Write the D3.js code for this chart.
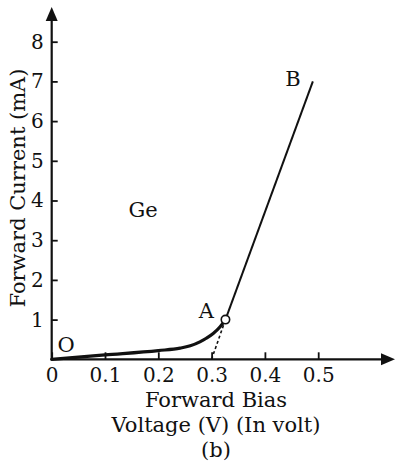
<!DOCTYPE html>
<html><head><meta charset="utf-8">
<script src="https://cdn.jsdelivr.net/npm/d3@7"></script>
<style>
html,body{margin:0;padding:0;background:#fff;}
text{font-family:"DejaVu Serif","Liberation Serif",serif;fill:#111;}
</style></head>
<body><svg id="c" width="411" height="466"></svg>
<script>
// Data
const xTicks = [0, 0.1, 0.2, 0.3, 0.4, 0.5];
const xTickLabels = ["0", "0.1", "0.2", "0.3", "0.4", "0.5"];
const yTicks = [1, 2, 3, 4, 5, 6, 7, 8];
const yTickLabels = ["1", "2", "3", "4", "5", "6", "7", "8"];
// knee curve O -> A (voltage V, current mA)
const kneeV = [0, 0.1, 0.2, 0.241, 0.26, 0.278, 0.29, 0.303, 0.316, 0.326];
const kneeI = [0, 0.11, 0.22, 0.28, 0.34, 0.44, 0.53, 0.65, 0.82, 1.0];
// linear region A -> B
const linV = [0.326, 0.49];
const linI = [1.0, 7.0];
// extrapolation (dashed) to threshold voltage
const dashV = [0.3, 0.326];
const dashI = [0, 1.0];
const pointLabels = ["O", "A", "B"];
const pointV = [0, 0.326, 0.49];
const pointI = [0, 1.0, 7.0];
const material = "Ge";
const xTitle = ["Forward Bias", "Voltage (V) (In volt)", "(b)"];
const yTitle = "Forward Current (mA)";

const svg = d3.select("#c");
const x = d3.scaleLinear().domain([0, 0.6]).range([51.7, 371.5]);
const y = d3.scaleLinear().domain([0, 8]).range([359.3, 41.7]);
const ink = "#111";

// axes lines with arrows
svg.append("line").attr("x1", x(0)).attr("x2", 384).attr("y1", y(0)).attr("y2", y(0))
  .attr("stroke", ink).attr("stroke-width", 2.2);
svg.append("line").attr("x1", x(0)).attr("x2", x(0)).attr("y1", y(0) + 1).attr("y2", 18)
  .attr("stroke", ink).attr("stroke-width", 2.2);
svg.append("path").attr("d", `M395,${y(0)} L381,${y(0) - 6} L381,${y(0) + 6} Z`).attr("fill", ink);
svg.append("path").attr("d", `M${x(0)},7 L${x(0) - 6},21 L${x(0) + 6},21 Z`).attr("fill", ink);

// x axis ticks
const xAxis = d3.axisBottom(x).tickValues(xTicks)
  .tickFormat((d, i) => xTickLabels[i]).tickSizeInner(-7).tickSizeOuter(0).tickPadding(8.5);
const gx = svg.append("g").attr("transform", `translate(0,${y(0)})`).call(xAxis);
gx.select(".domain").remove();
gx.selectAll(".tick line").attr("stroke", ink).attr("stroke-width", 1.8);
gx.selectAll(".tick text").attr("font-size", 20).attr("fill", ink)
  .style("font-family", '"DejaVu Serif", serif');

const yAxis = d3.axisLeft(y).tickValues(yTicks)
  .tickFormat((d, i) => yTickLabels[i]).tickSizeInner(-6).tickSizeOuter(0).tickPadding(8);
const gy = svg.append("g").attr("transform", `translate(${x(0)},0)`).call(yAxis);
gy.select(".domain").remove();
gy.selectAll(".tick line").attr("stroke", ink).attr("stroke-width", 1.8);
gy.selectAll(".tick text").attr("font-size", 20).attr("fill", ink)
  .style("font-family", '"DejaVu Serif", serif');

// curves
const knee = kneeV.map((v, i) => [v, kneeI[i]]);
const lin = linV.map((v, i) => [v, linI[i]]);
const dash = dashV.map((v, i) => [v, dashI[i]]);
const line = d3.line().x(d => x(d[0])).y(d => y(d[1]));
svg.append("path").attr("d", line.curve(d3.curveMonotoneX)(knee))
  .attr("fill", "none").attr("stroke", ink).attr("stroke-width", 3.2).attr("stroke-linecap", "round");
svg.append("path").attr("d", d3.line().x(d => x(d[0])).y(d => y(d[1]))(lin))
  .attr("fill", "none").attr("stroke", ink).attr("stroke-width", 2);
svg.append("path").attr("d", d3.line().x(d => x(d[0])).y(d => y(d[1]))(dash))
  .attr("fill", "none").attr("stroke", ink).attr("stroke-width", 1.6).attr("stroke-dasharray", "3,2.5");
svg.append("circle").attr("cx", x(pointV[1])).attr("cy", y(pointI[1])).attr("r", 4.2)
  .attr("fill", "#fff").attr("stroke", ink).attr("stroke-width", 1.6);

// point labels
const lblOff = [[14.5, -7.3], [-19, -1.5], [-20, 5]];
pointLabels.forEach((t, i) => {
  svg.append("text").attr("x", x(pointV[i]) + lblOff[i][0]).attr("y", y(pointI[i]) + lblOff[i][1])
    .attr("text-anchor", "middle").attr("font-size", 21).text(t);
});
svg.append("text").attr("x", 143).attr("y", 217).attr("text-anchor", "middle")
  .attr("font-size", 21).text(material);

// axis titles
const xtY = [406.5, 432, 456.5];
xTitle.forEach((t, i) => {
  svg.append("text").attr("x", 216).attr("y", xtY[i]).attr("text-anchor", "middle")
    .attr("font-size", 21).text(t);
});
svg.append("text").attr("transform", "translate(25,188) rotate(-90)")
  .attr("text-anchor", "middle").attr("font-size", 21).text(yTitle);
</script></body></html>
